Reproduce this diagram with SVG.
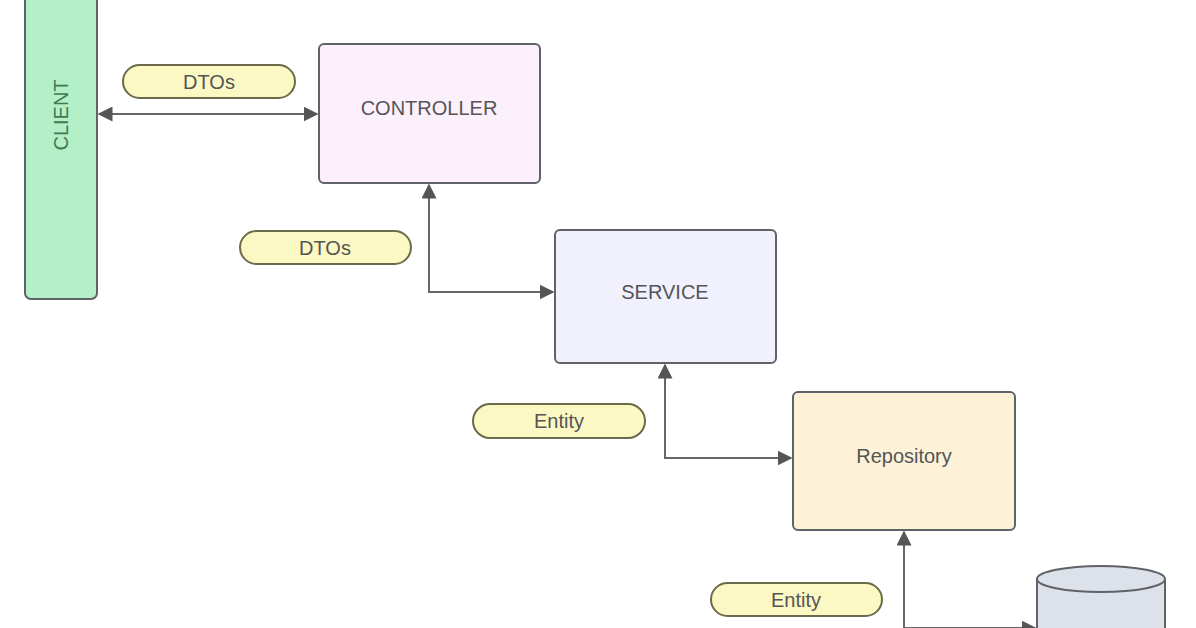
<svg xmlns="http://www.w3.org/2000/svg" width="1196" height="628" viewBox="0 0 1196 628">
<style>
.n{stroke:#5f6368;stroke-width:2}
.t{font-family:"Liberation Sans",Arial,sans-serif;font-size:20px;fill:#555;text-anchor:middle;dominant-baseline:central}
.p{fill:#fbf8c4;stroke:#6b6b4a;stroke-width:2}
.pt{font-family:"Liberation Sans",Arial,sans-serif;font-size:20px;fill:#555;text-anchor:middle;dominant-baseline:central}
.c{fill:none;stroke:#666;stroke-width:2}
</style>
<defs>
<marker id="a" viewBox="0 0 10 10" refX="9" refY="5" markerWidth="15" markerHeight="15" markerUnits="userSpaceOnUse" orient="auto-start-reverse"><path d="M0,0L10,5L0,10z" fill="#555"/></marker>
</defs>
<rect width="1196" height="628" fill="#fff"/>
<g id="client"><rect class="n" x="25" y="-10" width="72" height="309" rx="6" fill="#b3f0c8"/><text class="t" x="61" y="115" transform="rotate(-90 61 115)" style="fill:#3f7a50">CLIENT</text></g>
<g id="controller"><rect class="n" x="319" y="44" width="221" height="139" rx="5" fill="#fdf0fd"/><text class="t" x="429" y="108">CONTROLLER</text></g>
<g id="service"><rect class="n" x="555" y="230" width="221" height="133" rx="5" fill="#f1f0fd"/><text class="t" x="665" y="292">SERVICE</text></g>
<g id="repository"><rect class="n" x="793" y="392" width="222" height="138" rx="5" fill="#fdf2d8"/><text class="t" x="904" y="456">Repository</text></g>
<g id="database"><path class="n" d="M1037,579 V640 H1165 V579" fill="#dde1ea"/><ellipse class="n" cx="1101" cy="579" rx="64" ry="13" fill="#dde1ea"/></g>
<g id="labels">
<rect class="p" x="123" y="65" width="172" height="33" rx="16.5"/><text class="pt" x="209" y="82">DTOs</text>
<rect class="p" x="240" y="231" width="171" height="33" rx="16.5"/><text class="pt" x="325" y="248">DTOs</text>
<rect class="p" x="473" y="404" width="172" height="34" rx="17"/><text class="pt" x="559" y="421">Entity</text>
<rect class="p" x="711" y="583" width="171" height="33" rx="16.5"/><text class="pt" x="796" y="600">Entity</text>
</g>
<g id="connectors">
<path class="c" d="M99,114 H317" marker-start="url(#a)" marker-end="url(#a)"/>
<path class="c" d="M429,185 V292 H553" marker-start="url(#a)" marker-end="url(#a)"/>
<path class="c" d="M665,365 V458 H791" marker-start="url(#a)" marker-end="url(#a)"/>
<path class="c" d="M904,532 V628 H1035" marker-start="url(#a)" marker-end="url(#a)"/>
</g>
</svg>
